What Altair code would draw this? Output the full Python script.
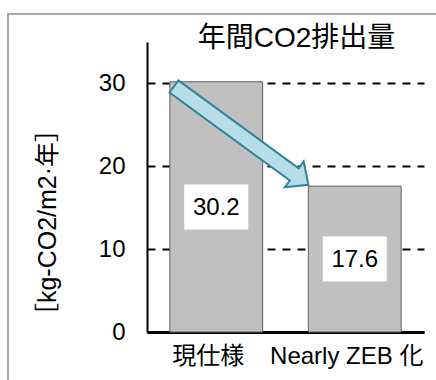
import altair as alt
import pandas as pd

# ---- data ----
categories = ["現仕様", "Nearly ZEB 化"]
values = [30.2, 17.6]
value_labels = ["30.2", "17.6"]
y_tick_values = [0, 10, 20, 30]
y_domain = [0, 35]

# arrow centre (x in category units: each category spans 1 unit) and value
arrow_x = [0.68]
arrow_y = [23.7]

FONT = "'Liberation Sans', 'Noto Sans CJK JP'"

df = pd.DataFrame({"category": categories, "value": values, "label": value_labels})
arrow_df = pd.DataFrame({"ax": arrow_x, "ay": arrow_y})

# ---- shapes (styles) ----
BOX_PATH = "M -1 -0.703 L 1 -0.703 L 1 0.703 L -1 0.703 Z"
ARROW_PATH = ("M -1 -0.09 L 0.789 -0.09 L 0.789 -0.192 L 1 0 "
              "L 0.789 0.192 L 0.789 0.09 L -1 0.09 Z")

x_enc = alt.X(
    "category:N",
    sort=categories,
    scale=alt.Scale(paddingInner=0.33, paddingOuter=0.165),
    axis=alt.Axis(
        title=None, labelAngle=0, ticks=False, domainColor="black",
        domainWidth=3, labelFontSize=24, labelFont=FONT, labelColor="black",
        labelPadding=12, labelOffset=-8,
    ),
)
y_enc = alt.Y(
    "value:Q",
    scale=alt.Scale(domain=y_domain, nice=False),
    axis=alt.Axis(
        values=y_tick_values, title="［kg-CO2/m2·年］", grid=True,
        gridDash=[8, 7], gridColor="black", gridWidth=2,
        domainColor="black", domainWidth=2, ticks=False, tickSize=0,
        labelFontSize=24, labelFont=FONT, labelColor="black", labelPadding=22,
        titleFontSize=25, titleFont=FONT, titleColor="black",
        titleFontWeight="normal", titleAngle=-90, titleX=-100, titleY=180,
        titleAlign="center", titleBaseline="middle",
    ),
)

frame = alt.Chart(arrow_df).mark_rect(
    fill="white", fillOpacity=0, stroke="#a6a6a6", strokeWidth=2
).encode(
    x=alt.value(-139), x2=alt.value(320), y=alt.value(-28), y2=alt.value(400)
)

bars = alt.Chart(df).mark_bar(
    color="#c0c0c0", stroke="#5f5f5f", strokeWidth=1
).encode(x=x_enc, y=y_enc)

boxes = alt.Chart(df).transform_calculate(mid="datum.value / 2").mark_point(
    shape=BOX_PATH, size=4096, filled=True, fill="white", opacity=1, strokeWidth=0
).encode(x=alt.X("category:N", sort=categories), y=alt.Y("mid:Q"))

texts = alt.Chart(df).transform_calculate(mid="datum.value / 2").mark_text(
    fontSize=24, font=FONT, color="black", baseline="middle", dy=1
).encode(x=alt.X("category:N", sort=categories), y=alt.Y("mid:Q"), text="label:N")

main = alt.layer(frame, bars, boxes, texts)

arrow = alt.Chart(arrow_df).mark_point(
    shape=ARROW_PATH, size=27756, angle=36.2, filled=True, fill="#b7dee8",
    stroke="#31849b", strokeWidth=2, opacity=1
).encode(
    x=alt.X("ax:Q", scale=alt.Scale(domain=[0, 2], nice=False), axis=None),
    y=alt.Y("ay:Q", scale=alt.Scale(domain=y_domain, nice=False), axis=None),
)

chart = alt.layer(main, arrow).resolve_scale(
    x="independent", y="independent"
).properties(
    width=277,
    height=290,
    padding={"left": 147, "top": 42, "right": 12, "bottom": 48},
    autosize=alt.AutoSizeParams(type="none"),
    background="white",
    title=alt.Title("年間CO2排出量", fontSize=28, font=FONT, fontWeight="normal",
                    color="black", anchor="middle", frame="group", dx=11,
                    offset=-10, dy=30),
).configure_view(stroke=None)

chart.save("out.html", embed_options={"renderer": "svg", "actions": False})
